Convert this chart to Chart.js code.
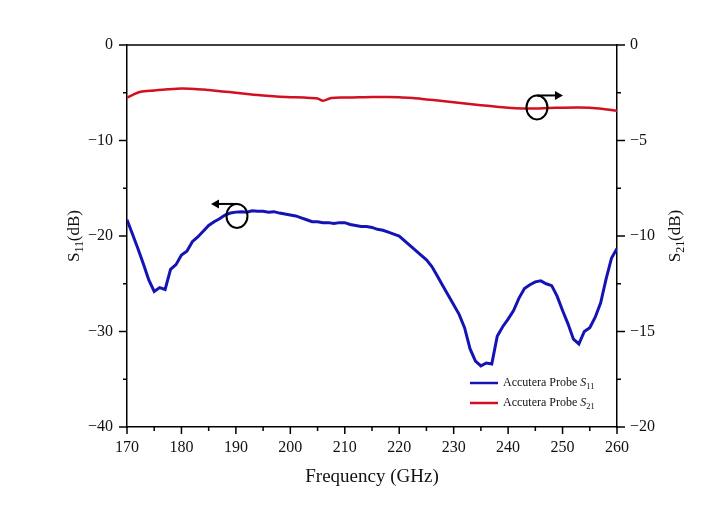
<!DOCTYPE html>
<html>
<head>
<meta charset="utf-8">
<script src="https://cdn.jsdelivr.net/npm/chart.js@4.4.1/dist/chart.umd.min.js"></script>
<style>
  html, body { margin: 0; padding: 0; background: #fff; }
  #wrap { width: 716px; height: 508px; }
</style>
</head>
<body>
<div id="wrap"><canvas id="chart" width="716" height="508"></canvas></div>
<script>
// --- DATA ---
const freqS11 = [170,171,172,173,174,175,176,177,178,179,180,181,182,183,184,185,186,187,188,189,
  190,191,192,193,194,195,196,197,198,199,200,201,202,203,204,205,206,207,208,209,
  210,211,212,213,214,215,216,217,218,219,220,221,222,223,224,225,226,227,228,229,
  230,231,232,233,234,235,236,237,238,239,240,241,242,243,244,245,246,247,248,249,
  250,251,252,253,254,255,256,257,258,259,260];
const s11 = [-18.3,-19.8,-21.3,-22.9,-24.6,-25.8,-25.4,-25.6,-23.5,-23.0,-22.0,-21.6,-20.6,-20.1,-19.5,-18.9,-18.5,-18.2,-17.8,-17.6,
  -17.5,-17.45,-17.5,-17.35,-17.4,-17.4,-17.5,-17.45,-17.6,-17.7,-17.8,-17.9,-18.1,-18.3,-18.5,-18.5,-18.6,-18.6,-18.7,-18.6,
  -18.6,-18.8,-18.9,-19.0,-19.0,-19.1,-19.3,-19.4,-19.6,-19.8,-20.0,-20.5,-21.0,-21.5,-22.0,-22.5,-23.2,-24.2,-25.2,-26.2,
  -27.2,-28.2,-29.6,-31.8,-33.1,-33.6,-33.3,-33.4,-30.5,-29.5,-28.7,-27.8,-26.5,-25.5,-25.1,-24.8,-24.7,-25.0,-25.2,-26.3,
  -27.8,-29.2,-30.8,-31.3,-30.0,-29.6,-28.5,-27.0,-24.5,-22.3,-21.3];

const freqS21 = [170,172.5,175,177.5,180,182.5,185,187.5,190,192.5,195,197.5,200,202.5,205,206,207.5,
  210,212.5,215,217.5,220,222.5,225,227.5,230,232.5,235,237.5,240,242.5,245,247.5,250,252.5,255,257.5,260];
const s21 = [-2.75,-2.45,-2.38,-2.32,-2.28,-2.3,-2.36,-2.43,-2.5,-2.58,-2.65,-2.7,-2.73,-2.75,-2.8,-2.92,-2.78,
  -2.75,-2.74,-2.72,-2.72,-2.73,-2.78,-2.85,-2.92,-3.0,-3.08,-3.15,-3.22,-3.28,-3.32,-3.33,-3.3,-3.28,-3.27,-3.28,-3.35,-3.45];

const xTicks = [170,180,190,200,210,220,230,240,250,260];
const leftTicks = [0,-10,-20,-30,-40];
const rightTicks = [0,-5,-10,-15,-20];

const BLUE = '#1414b4';
const RED = '#d2101e';
const SERIF = '"Liberation Serif", "DejaVu Serif", serif';

const toPoints = (xs, ys) => xs.map((x, i) => ({ x: x, y: ys[i] }));
const minus = v => (v < 0 ? '\u2212' + Math.abs(v) : String(v));

// draw a run of text pieces (supports italic + subscript)
function drawRich(ctx, parts, x, y, size) {
  let cx = x;
  parts.forEach(p => {
    const fs = p.sub ? size * 0.7 : size;
    ctx.font = (p.italic ? 'italic ' : '') + fs + 'px ' + SERIF;
    ctx.fillText(p.t, cx, p.sub ? y + size * 0.28 : y);
    cx += ctx.measureText(p.t).width;
  });
  return cx - x;
}
function richWidth(ctx, parts, size) {
  let w = 0;
  parts.forEach(p => {
    const fs = p.sub ? size * 0.7 : size;
    ctx.font = (p.italic ? 'italic ' : '') + fs + 'px ' + SERIF;
    w += ctx.measureText(p.t).width;
  });
  return w;
}

// --- tick marks, frame, titles, legend, annotations ---
const decorPlugin = {
  id: 'decor',
  afterDraw(chart) {
    const ctx = chart.ctx;
    const area = chart.chartArea;
    const sx = chart.scales.x, sy = chart.scales.y, sy2 = chart.scales.y2;
    ctx.save();
    ctx.strokeStyle = '#000';
    ctx.lineWidth = 1.5;

    // top frame line
    ctx.beginPath();
    ctx.moveTo(area.left, area.top);
    ctx.lineTo(area.right, area.top);
    ctx.stroke();

    // x ticks (outward, minor every 5)
    for (let v = 170; v <= 260; v += 5) {
      const px = sx.getPixelForValue(v);
      const len = v % 10 === 0 ? 7 : 4;
      ctx.beginPath();
      ctx.moveTo(px, area.bottom);
      ctx.lineTo(px, area.bottom + len);
      ctx.stroke();
    }
    // left y ticks
    for (let v = 0; v >= -40; v -= 5) {
      const py = sy.getPixelForValue(v);
      const len = v % 10 === 0 ? 8 : 4;
      ctx.beginPath();
      ctx.moveTo(area.left, py);
      ctx.lineTo(area.left - len, py);
      ctx.stroke();
    }
    // right y ticks
    for (let v = 0; v >= -20; v -= 2.5) {
      const py = sy2.getPixelForValue(v);
      const len = v % 5 === 0 ? 8 : 4;
      ctx.beginPath();
      ctx.moveTo(area.right, py);
      ctx.lineTo(area.right + len, py);
      ctx.stroke();
    }

    // axis titles
    ctx.fillStyle = '#111';
    ctx.textBaseline = 'middle';
    const ts = 17;
    const leftTitle = [{ t: 'S' }, { t: '11', sub: true }, { t: '(dB)' }];
    const rightTitle = [{ t: 'S' }, { t: '21', sub: true }, { t: '(dB)' }];
    const midY = (area.top + area.bottom) / 2;
    [[75, leftTitle], [676, rightTitle]].forEach(([x, parts]) => {
      ctx.save();
      ctx.translate(x, midY);
      ctx.rotate(-Math.PI / 2);
      const w = richWidth(ctx, parts, ts);
      drawRich(ctx, parts, -w / 2, 0, ts);
      ctx.restore();
    });
    ctx.font = '19px ' + SERIF;
    ctx.textAlign = 'center';
    ctx.fillText('Frequency (GHz)', (area.left + area.right) / 2, 477);
    ctx.textAlign = 'left';

    // legend
    const legendItems = [
      { color: BLUE, parts: [{ t: 'Accutera Probe ' }, { t: 'S', italic: true }, { t: '11', sub: true }] },
      { color: RED, parts: [{ t: 'Accutera Probe ' }, { t: 'S', italic: true }, { t: '21', sub: true }] }
    ];
    legendItems.forEach((item, i) => {
      const ly = 383 + i * 20;
      ctx.strokeStyle = item.color;
      ctx.lineWidth = 2.5;
      ctx.beginPath();
      ctx.moveTo(470, ly);
      ctx.lineTo(498, ly);
      ctx.stroke();
      ctx.fillStyle = '#111';
      drawRich(ctx, item.parts, 503, ly, 12);
    });

    // loop-and-arrow markers pointing at each series' axis
    const marker = (fx, fy, scale, dir) => {
      const cx = sx.getPixelForValue(fx);
      const cy = scale.getPixelForValue(fy);
      ctx.strokeStyle = '#000';
      ctx.fillStyle = '#000';
      ctx.lineWidth = 2;
      ctx.beginPath();
      ctx.ellipse(cx, cy, 10.5, 12, 0, 0, Math.PI * 2);
      ctx.stroke();
      const ay = cy - 12;
      const tip = cx + dir * 26;
      ctx.beginPath();
      ctx.moveTo(cx, ay);
      ctx.lineTo(tip - dir * 6, ay);
      ctx.stroke();
      ctx.beginPath();
      ctx.moveTo(tip, ay);
      ctx.lineTo(tip - dir * 8, ay - 4.5);
      ctx.lineTo(tip - dir * 8, ay + 4.5);
      ctx.closePath();
      ctx.fill();
    };
    marker(190.2, -17.9, sy, -1);
    marker(245.3, -3.27, sy2, 1);

    ctx.restore();
  }
};

// --- CHART ---
const ctx = document.getElementById('chart');
new Chart(ctx, {
  type: 'line',
  data: {
    datasets: [
      {
        label: 'Accutera Probe S11',
        data: toPoints(freqS11, s11),
        yAxisID: 'y',
        borderColor: BLUE,
        borderWidth: 3,
        pointRadius: 0,
        tension: 0
      },
      {
        label: 'Accutera Probe S21',
        data: toPoints(freqS21, s21),
        yAxisID: 'y2',
        borderColor: RED,
        borderWidth: 2.5,
        pointRadius: 0,
        tension: 0.3
      }
    ]
  },
  options: {
    responsive: false,
    animation: false,
    devicePixelRatio: 1,
    layout: { padding: { top: 45, left: 0, right: 0, bottom: 0 } },
    plugins: { legend: { display: false }, tooltip: { enabled: false } },
    scales: {
      x: {
        type: 'linear',
        min: 170, max: 260,
        afterFit: s => { s.height = 81; },
        afterBuildTicks: s => { s.ticks = xTicks.map(v => ({ value: v })); },
        ticks: { padding: 11, color: '#111', font: { family: SERIF, size: 16 } },
        grid: { display: false, drawTicks: false },
        border: { display: true, color: '#000', width: 1.5 }
      },
      y: {
        position: 'left',
        min: -40, max: 0,
        afterFit: s => { s.width = 127; },
        afterBuildTicks: s => { s.ticks = leftTicks.map(v => ({ value: v })); },
        ticks: { padding: 14, color: '#111', font: { family: SERIF, size: 16 }, callback: v => minus(v) },
        grid: { display: false, drawTicks: false },
        border: { display: true, color: '#000', width: 1.5 }
      },
      y2: {
        position: 'right',
        min: -20, max: 0,
        afterFit: s => { s.width = 99; },
        afterBuildTicks: s => { s.ticks = rightTicks.map(v => ({ value: v })); },
        ticks: { padding: 13, color: '#111', font: { family: SERIF, size: 16 }, callback: v => minus(v) },
        grid: { display: false, drawTicks: false },
        border: { display: true, color: '#000', width: 1.5 }
      }
    }
  },
  plugins: [decorPlugin]
});
</script>
</body>
</html>
